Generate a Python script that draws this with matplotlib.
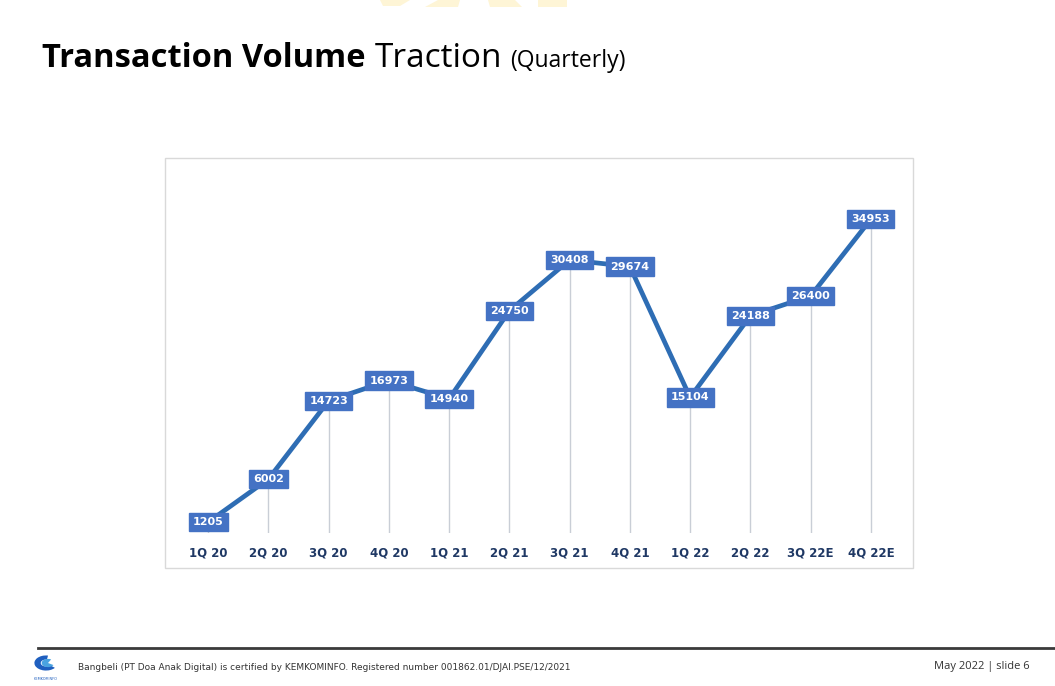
import matplotlib
matplotlib.use("Agg")
import matplotlib.pyplot as plt
from matplotlib.patches import Rectangle, Wedge, Polygon

quarters = ["1Q 20", "2Q 20", "3Q 20", "4Q 20", "1Q 21", "2Q 21",
            "3Q 21", "4Q 21", "1Q 22", "2Q 22", "3Q 22E", "4Q 22E"]
volumes = [1205, 6002, 14723, 16973, 14940, 24750,
           30408, 29674, 15104, 24188, 26400, 34953]

W, H = 1055, 686
fig = plt.figure(figsize=(W / 100, H / 100), dpi=100)
fig.patch.set_facecolor("white")


def fx(px):
    return px / W


def fy(py):
    return 1 - py / H


# faint watermark shapes at the top edge
for pts in [[(380, 0), (410, 0), (400, 6), (383, 6)],
            [(425, 7), (438, 0), (460, 0), (458, 7)],
            [(488, 0), (515, 0), (522, 7), (490, 7)],
            [(538, 0), (567, 0), (567, 7), (538, 7)]]:
    fig.patches.append(Polygon([(fx(a), fy(b)) for a, b in pts], closed=True,
                               transform=fig.transFigure, facecolor="#fef5d6",
                               edgecolor="none"))

# title
t1 = fig.text(fx(42), fy(67), "Transaction Volume", fontsize=23.5, fontweight="bold",
              family="Open Sans", color="black", va="baseline")
fig.canvas.draw()
bb = t1.get_window_extent()
t2 = fig.text(bb.x1 / W + fx(9), fy(67), "Traction", fontsize=24,
              family="Open Sans", color="black", va="baseline")
fig.canvas.draw()
bb2 = t2.get_window_extent()
fig.text(bb2.x1 / W + fx(8), fy(67), "(Quarterly)", fontsize=16.5,
         family="Open Sans", color="black", va="baseline")

# chart frame
fig.patches.append(Rectangle((fx(165), fy(568)), fx(913) - fx(165), fy(158) - fy(568),
                             transform=fig.transFigure, fill=False,
                             edgecolor="#d9d9d9", linewidth=1.0))

# plot area
ax = fig.add_axes([fx(178), fy(533), fx(901) - fx(178), fy(160) - fy(533)])
ax.set_xlim(-0.5, len(quarters) - 0.5)
ax.set_ylim(0, 41540)
ax.axis("off")

x = list(range(len(quarters)))
ax.vlines(x, 0, volumes, color="#c9ced6", linewidth=1.0, zorder=1)
ax.plot(x, volumes, color="#2E6DB4", linewidth=3.4, solid_joinstyle="round", zorder=2)

for xi, v in zip(x, volumes):
    ax.text(xi, v, f"{v}", ha="center", va="center", fontsize=8, fontweight="bold",
            color="white", family="DejaVu Sans", zorder=3,
            bbox=dict(boxstyle="square,pad=0.38", facecolor="#4472C4",
                      edgecolor="#4472C4"))
    ax.text(xi, -2200, quarters[xi], ha="center", va="center", fontsize=8.5,
            fontweight="bold", color="#1F3864", family="DejaVu Sans", clip_on=False)

# footer
fig.add_artist(plt.Line2D([fx(38), fx(1055)], [fy(648), fy(648)],
                          color="#3a3a3a", linewidth=2.0))
fig.patches.append(Wedge((fx(46), fy(663)), 0.011, 80, 320, width=0.006,
                         transform=fig.transFigure, facecolor="#1f5fbf",
                         edgecolor="none"))
fig.patches.append(Wedge((fx(48), fy(663)), 0.006, 60, 330,
                         transform=fig.transFigure, facecolor="#4aa3e0",
                         edgecolor="none"))
fig.text(fx(46), fy(679), "KEMKOMINFO", fontsize=2.5, color="#1f5fbf",
         ha="center", va="center")
fig.text(fx(78), fy(667), "Bangbeli (PT Doa Anak Digital) is certified by KEMKOMINFO. "
         "Registered number 001862.01/DJAI.PSE/12/2021",
         fontsize=6.5, color="#333333", va="center", family="DejaVu Sans")
fig.text(fx(1030), fy(667), "May 2022 | slide 6", fontsize=8, color="#333333",
         va="center", ha="right", family="Open Sans")

fig.savefig("out.png", dpi=100)
